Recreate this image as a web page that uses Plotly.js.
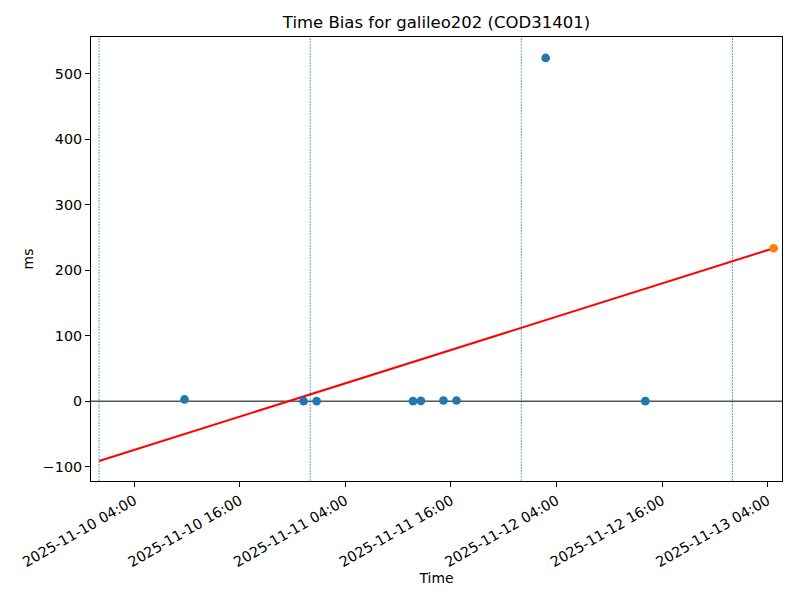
<!DOCTYPE html>
<html>
<head>
<meta charset="utf-8">
<script src="https://cdn.plot.ly/plotly-3.0.1.min.js"></script>
<style>html,body{margin:0;padding:0;background:#fff;}#chart{width:800px;height:600px;}</style>
</head>
<body>
<div id="chart"></div>
<script>
// Observed time bias points
const obsTimes = [
  "2025-11-10 09:43", "2025-11-10 23:15", "2025-11-11 00:44",
  "2025-11-11 11:41", "2025-11-11 12:35", "2025-11-11 15:09",
  "2025-11-11 16:38", "2025-11-12 02:46", "2025-11-12 14:06"
];
const obsValues = [2.6, 0, 0, 0, 0.5, 1, 1, 524, 0];
// Predicted point
const predTimes = ["2025-11-13 04:41"];
const predValues = [233.5];
// Fit line endpoints
const fitTimes = ["2025-11-10 00:00", "2025-11-13 04:41"];
const fitValues = [-91.3, 233.5];
// Day boundaries
const dayLines = ["2025-11-10 00:00", "2025-11-11 00:00", "2025-11-12 00:00", "2025-11-13 00:00"];
// Tick labels
const tickTimes = ["2025-11-10 04:00", "2025-11-10 16:00", "2025-11-11 04:00",
  "2025-11-11 16:00", "2025-11-12 04:00", "2025-11-12 16:00", "2025-11-13 04:00"];
const tickLabels = tickTimes.slice();
const yTicks = [-100, 0, 100, 200, 300, 400, 500];

const font = "DejaVu Sans, sans-serif";

const traces = [
  {x: fitTimes, y: fitValues, mode: "lines", line: {color: "#ff0000", width: 2}, hoverinfo: "skip"},
  {x: obsTimes, y: obsValues, mode: "markers", marker: {color: "#1f77b4", size: 8.7}},
  {x: predTimes, y: predValues, mode: "markers", marker: {color: "#ff7f0e", size: 8.7}}
];

const shapes = dayLines.map(d => ({
  type: "line", xref: "x", yref: "paper", x0: d, x1: d, y0: 0, y1: 1,
  line: {color: "#1f77b4", width: 0.7, dash: "2px,1px"}, layer: "below"
}));
shapes.push({type: "line", xref: "paper", yref: "y", x0: 0, x1: 1, y0: 0, y1: 0,
  line: {color: "#000", width: 1}, layer: "below"});

const layout = {
  width: 800, height: 600,
  paper_bgcolor: "#fff", plot_bgcolor: "#fff",
  margin: {l: 91, r: 18, t: 37, b: 119, pad: 0},
  showlegend: false,
  font: {family: font, size: 13.9, color: "#000"},
  title: {text: "Time Bias for galileo202 (COD31401)", font: {family: font, size: 16.5, color: "#000"},
    x: 0.5, xref: "paper", xanchor: "center", y: 0.963, yanchor: "middle"},
  xaxis: {
    type: "date",
    range: ["2025-11-09 23:05", "2025-11-13 05:38"],
    tickmode: "array", tickvals: tickTimes, ticktext: tickLabels,
    tickangle: -30, ticks: "outside", ticklen: 5, tickwidth: 1, tickcolor: "#000",
    showline: true, linecolor: "#000", linewidth: 1, mirror: true,
    showgrid: false, zeroline: false,
    tickfont: {family: font, size: 14.3},
    title: {text: "Time", font: {family: font, size: 13.9}, standoff: 3}
  },
  yaxis: {
    range: [-121.9, 556],
    tickmode: "array", tickvals: yTicks,
    ticks: "outside", ticklen: 5, tickwidth: 1, tickcolor: "#000",
    showline: true, linecolor: "#000", linewidth: 1, mirror: true,
    showgrid: false, zeroline: false,
    tickfont: {family: font, size: 14.3},
    title: {text: "ms", font: {family: font, size: 13.9}, standoff: 5}
  },
  shapes: shapes
};

Plotly.newPlot("chart", traces, layout, {staticPlot: true, displayModeBar: false});
</script>
</body>
</html>
